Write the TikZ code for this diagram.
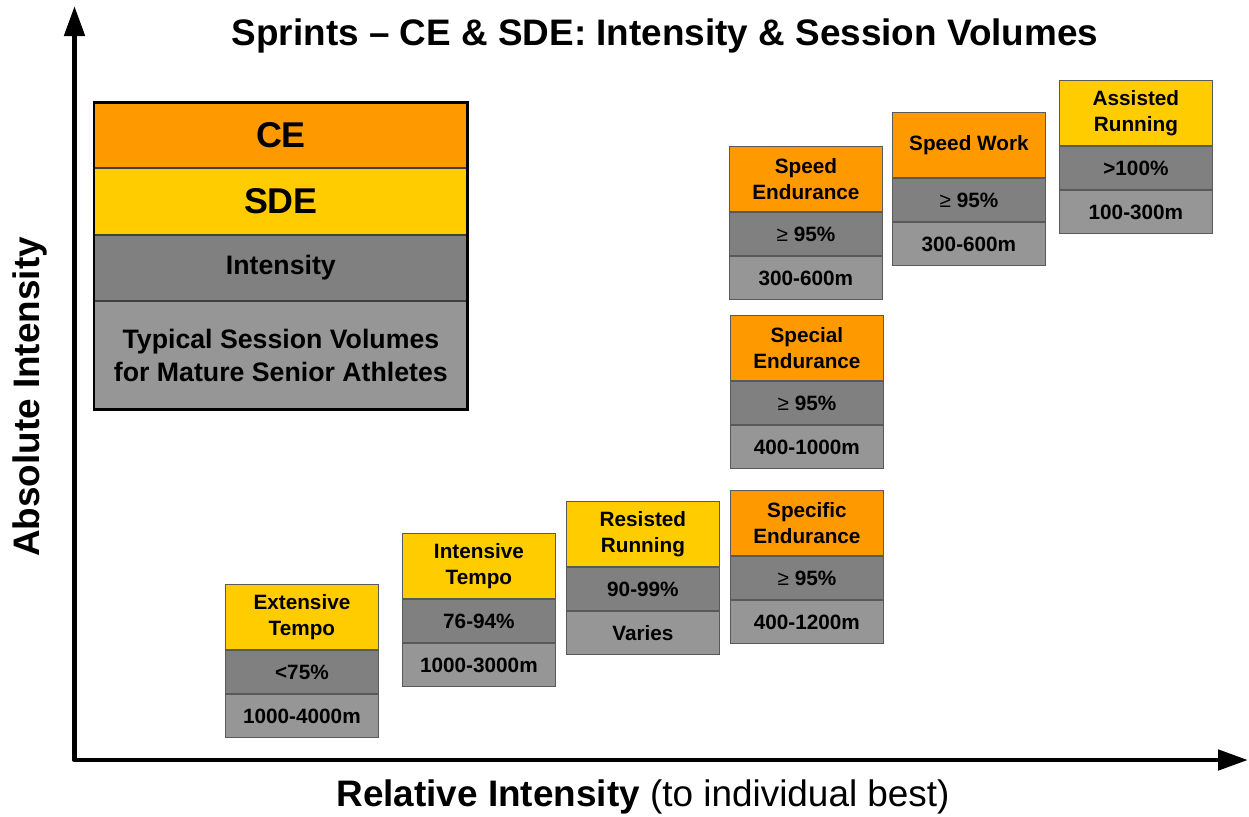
\documentclass[tikz,border=0pt]{standalone}
\usepackage{fontspec}
\setmainfont{Liberation Sans}
\usepackage{xcolor}
\usepackage{tikz}
\usetikzlibrary{positioning,arrows.meta}

\definecolor{ceorange}{HTML}{FF9900}
\definecolor{sdeyellow}{HTML}{FFCC00}
\definecolor{intgray}{HTML}{808080}
\definecolor{volgray}{HTML}{969696}

\tikzset{
    cell/.style={draw=black!65,line width=0.5pt,inner sep=0pt,minimum width=3.06cm,
        align=center,text=black,font=\fontsize{11.8}{15}\selectfont\bfseries},
    cehead/.style={cell,fill=ceorange,minimum height=1.31cm},
    sdehead/.style={cell,fill=sdeyellow,minimum height=1.31cm},
    intcell/.style={cell,fill=intgray,minimum height=0.86cm},
    volcell/.style={cell,fill=volgray,minimum height=0.86cm},
    keycell/.style={draw=black!75,line width=0.5pt,inner sep=0pt,minimum width=7.46cm,
        align=center,font=\fontsize{15.2}{18.7}\selectfont\bfseries},
    axislabel/.style={font=\fontsize{21}{25}\selectfont}
}
\newcommand{\geqsym}{{\mdseries\symbol{"2265}}}

\begin{document}
\begin{tikzpicture}[x=0.02cm,y=-0.02cm]
    \useasboundingbox (0,0) rectangle (1249,816);

    % axes
    \coordinate (ytip) at (74.5,6);
    \coordinate (origin) at (74.5,760);
    \coordinate (xtip) at (1248,760);
    \draw[line width=2.8pt,line join=round,{Triangle[length=0.6cm,width=0.4cm]}-{Triangle[length=0.6cm,width=0.4cm]}]
        (ytip) -- (origin) -- (xtip);

    \node[axislabel] (title) at (665,36) {\bfseries Sprints -- CE \& SDE: Intensity \& Session Volumes};
    \node[axislabel] (xlabel) at (643,797) {\bfseries Relative Intensity\mdseries\ (to individual best)};
    \node[axislabel,rotate=90] (ylabel) at (30,397) {\bfseries Absolute Intensity};

    % key
    \node[keycell,fill=ceorange,minimum height=1.31cm,anchor=north west,font=\fontsize{20.4}{24}\selectfont\bfseries] (keyce) at (94,102) {CE};
    \node[keycell,fill=sdeyellow,minimum height=1.31cm,below=0pt of keyce,font=\fontsize{20.4}{24}\selectfont\bfseries] (keysde) {SDE};
    \node[keycell,fill=intgray,minimum height=1.31cm,below=0pt of keysde] (keyint) {Intensity};
    \node[keycell,fill=volgray,minimum height=2.15cm,below=0pt of keyint] (keyvol) {Typical Session Volumes\\for Mature Senior Athletes};
    \draw[line width=1.7pt] (keyce.north west) rectangle (keyvol.south east);

    % SDE columns
    \node[sdehead,anchor=north west] (et) at (225,584) {Extensive\\Tempo};
    \node[intcell,below=0pt of et] (etI) {<75\%};
    \node[volcell,below=0pt of etI] (etV) {1000-4000m};

    \node[sdehead,anchor=north west] (it) at (402,533) {Intensive\\Tempo};
    \node[intcell,below=0pt of it] (itI) {76-94\%};
    \node[volcell,below=0pt of itI] (itV) {1000-3000m};

    \node[sdehead,anchor=north west] (rr) at (566,501) {Resisted\\Running};
    \node[intcell,below=0pt of rr] (rrI) {90-99\%};
    \node[volcell,below=0pt of rrI] (rrV) {Varies};

    % CE columns
    \node[cehead,anchor=north west] (sfe) at (730,490) {Specific\\Endurance};
    \node[intcell,below=0pt of sfe] (sfeI) {\geqsym\ 95\%};
    \node[volcell,below=0pt of sfeI] (sfeV) {400-1200m};

    \node[cehead,anchor=north west] (spe) at (730,315) {Special\\Endurance};
    \node[intcell,below=0pt of spe] (speI) {\geqsym\ 95\%};
    \node[volcell,below=0pt of speI] (speV) {400-1000m};

    \node[cehead,anchor=north west] (sde) at (729,146) {Speed\\Endurance};
    \node[intcell,below=0pt of sde] (sdeI) {\geqsym\ 95\%};
    \node[volcell,below=0pt of sdeI] (sdeV) {300-600m};

    \node[cehead,anchor=north west] (sw) at (892,112) {Speed Work};
    \node[intcell,below=0pt of sw] (swI) {\geqsym\ 95\%};
    \node[volcell,below=0pt of swI] (swV) {300-600m};

    \node[sdehead,anchor=north west] (ar) at (1059,80) {Assisted\\Running};
    \node[intcell,below=0pt of ar] (arI) {>100\%};
    \node[volcell,below=0pt of arI] (arV) {100-300m};
\end{tikzpicture}
\end{document}
